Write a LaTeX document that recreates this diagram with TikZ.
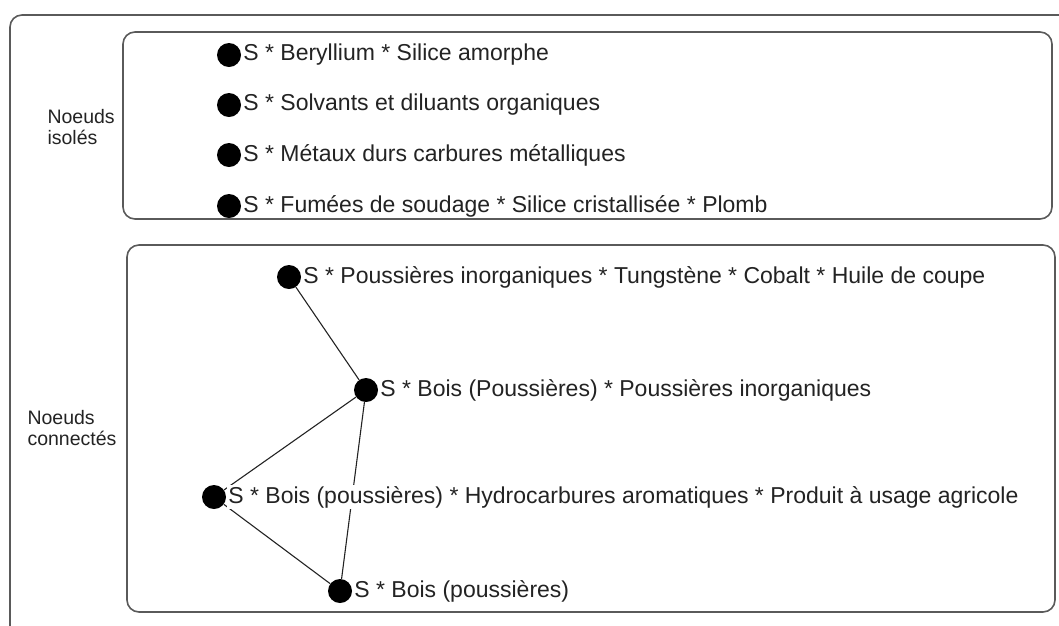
\documentclass[tikz,border=0pt]{standalone}
\usepackage{fontspec}
\setmainfont{Liberation Sans}
\usetikzlibrary{positioning}
\definecolor{framegray}{RGB}{90,90,90}
\definecolor{inkgray}{RGB}{35,35,35}

\begin{document}
\begin{tikzpicture}[
		x=1pt, y=-1pt,
		frame/.style={draw=framegray, line width=1.6pt, rounded corners=12pt},
		dot/.style={circle, fill=black, inner sep=0pt, minimum size=24pt},
		substance/.style={fill=white, inner sep=1pt, text=inkgray, font=\fontsize{23}{26}\selectfont, right=1pt of #1},
		grouplabel/.style={align=left, text=inkgray, font=\fontsize{19.5}{21}\selectfont, anchor=west},
		link/.style={draw=inkgray, line width=1.1pt}
	]
	\useasboundingbox (0,0) rectangle (1059,625);
	% outer frame
	\draw[frame] (1070,15) -- (10,15) -- (10,640);
	% group boxes
	\draw[frame] (123,32) rectangle (1052,219);
	\draw[frame] (127,245) rectangle (1055,612);
	\node[grouplabel] (isol-label) at (44,127) {Noeuds\\isolés};
	\node[grouplabel] (conn-label) at (24,428) {Noeuds\\connectés};
	
	% isolated nodes
	\node[dot] (i1) at (229,55) {};
	\node[dot] (i2) at (229,105) {};
	\node[dot] (i3) at (229,155) {};
	\node[dot] (i4) at (229,206) {};
	\node[substance=i1] (i1-text) {S * Beryllium * Silice amorphe};
	\node[substance=i2] (i2-text) {S * Solvants et diluants organiques};
	\node[substance=i3] (i3-text) {S * Métaux durs carbures métalliques};
	\node[substance=i4] (i4-text) {S * Fumées de soudage * Silice cristallisée * Plomb};
	
	% connected nodes
	\node[dot] (c1) at (289,277) {};
	\node[dot] (c2) at (366,390) {};
	\node[dot] (c3) at (214,497) {};
	\node[dot] (c4) at (340,591) {};
	\draw[link] (c1) -- (c2);
	\draw[link] (c2) -- (c3);
	\draw[link] (c2) -- (c4);
	\draw[link] (c3) -- (c4);
	\node[substance=c1] (c1-text) {S * Poussières inorganiques * Tungstène * Cobalt * Huile de coupe};
	\node[substance=c2] (c2-text) {S * Bois (Poussières) * Poussières inorganiques};
	\node[substance=c3] (c3-text) {S * Bois (poussières) * Hydrocarbures aromatiques * Produit à usage agricole};
	\node[substance=c4] (c4-text) {S * Bois (poussières)};
\end{tikzpicture}
\end{document}
